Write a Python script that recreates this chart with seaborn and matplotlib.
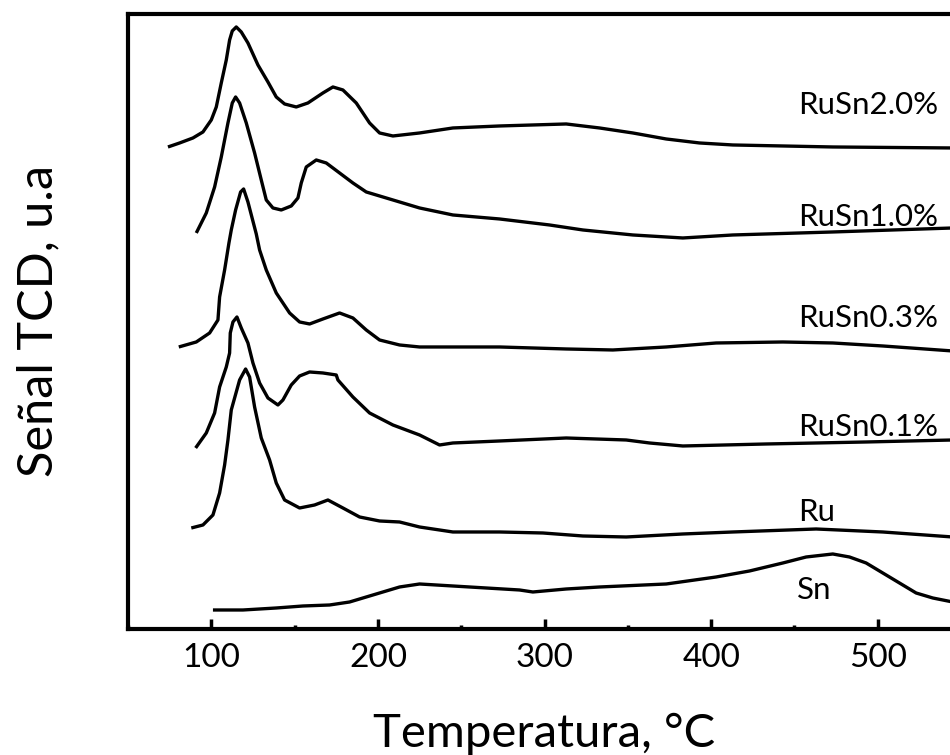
import numpy as np
import pandas as pd
import matplotlib
matplotlib.use("Agg")
import matplotlib.pyplot as plt
import seaborn as sns
from matplotlib.ticker import MultipleLocator

# TPR profiles (temperature in °C, TCD signal in arbitrary offset units)
t_rusn20 = [74, 81, 89, 95, 100, 103, 106, 109, 111, 112.6, 115, 118, 122, 128, 134, 139,
            144, 151, 158, 167, 173, 179, 187, 195, 201, 209, 225, 245, 273, 313, 333,
            353, 373, 393, 413, 473, 545]
s_rusn20 = [482, 486, 491, 497, 509, 522, 546, 569, 589, 598, 602, 597, 586, 564, 547, 532,
            525, 522, 526, 536, 542, 539, 526, 506, 496, 493, 496, 501, 503, 505, 501,
            496, 490, 486, 484, 482, 481]

t_rusn10 = [91, 97, 102, 106, 110, 112.6, 114.6, 117, 121, 126, 130, 133, 137, 142, 148,
            152, 154, 157, 163, 169, 177, 185, 193, 209, 225, 245, 273, 303, 323, 353,
            383, 413, 473, 545]
s_rusn10 = [396, 416, 442, 472, 506, 526, 532, 526, 506, 476, 449, 429, 421, 419, 423,
            431, 446, 462, 469, 466, 456, 446, 437, 429, 421, 414, 410, 404, 399, 394,
            391, 394, 397, 401]

t_rusn03 = [80.5, 91, 99, 104, 105, 108, 110.6, 112, 114.6, 117.6, 119.4, 122, 127, 129,
            133, 139, 147, 153, 159, 167, 177, 185, 193, 201, 213, 225, 273, 313, 341,
            373, 403, 443, 473, 503, 545]
s_rusn03 = [282, 287, 296, 309, 332, 359, 386, 399, 419, 437, 440, 427, 395, 379,
            359, 336, 316, 307, 305, 310, 316, 311, 299, 289, 284, 282, 282, 280, 279,
            282, 286, 287, 286, 283, 278]

t_rusn01 = [90.6, 97, 102, 105, 109, 111, 111.4, 113, 115.4, 118, 122, 125, 129, 134, 140,
            143, 148, 153, 159, 167, 175, 176, 185, 195, 209, 225, 237, 245, 273, 313,
            349, 363, 383, 433, 493, 545]
s_rusn01 = [181, 196, 216, 242, 262, 276, 296, 307, 312, 301, 286, 266, 246, 231, 224,
            229, 244, 253, 257, 256, 254, 249, 232, 216, 204, 194, 184, 186, 188, 191,
            189, 186, 183, 185, 187, 189]

t_ru = [88, 95, 101, 105, 108, 110, 112, 117, 120.6, 123, 126, 130, 135, 139, 144, 153,
        162, 170, 179, 189, 201, 213, 225, 245, 273, 299, 323, 349, 383, 413, 463, 503,
        545]
s_ru = [101, 104, 114, 136, 164, 189, 219, 249, 260, 252, 222, 191, 169, 146, 129, 121,
        124, 129, 121, 112, 108, 107, 102, 97, 97, 96, 93, 92, 95, 97, 100, 97,
        92]

t_sn = [101, 119, 139, 155, 171, 183, 199, 213, 225, 245, 265, 285, 293, 313, 333, 373,
        403, 423, 443, 457, 473, 483, 493, 503, 513, 523, 533, 545]
s_sn = [19, 19, 21, 23, 24, 27, 35, 42, 45, 43, 41, 39, 37, 40, 42, 45,
        52, 58, 66, 72, 75, 72, 66, 56, 46, 36, 31, 27]

samples = ["RuSn2.0%", "RuSn1.0%", "RuSn0.3%", "RuSn0.1%", "Ru", "Sn"]
temps = [t_rusn20, t_rusn10, t_rusn03, t_rusn01, t_ru, t_sn]
signals = [s_rusn20, s_rusn10, s_rusn03, s_rusn01, s_ru, s_sn]

# curve labels: (temperature, signal, horizontal alignment)
label_t = [536, 536, 536, 536, 463, 462]
label_s = [524, 412, 311, 202, 117, 39]
label_ha = ["right", "right", "right", "right", "center", "center"]

x_ticks = [100, 200, 300, 400, 500]

df = pd.concat(
    [pd.DataFrame({"T": t, "signal": s, "sample": name})
     for name, t, s in zip(samples, temps, signals)],
    ignore_index=True,
)

sns.set_style("ticks")
plt.rcParams["font.family"] = ["Lato", "DejaVu Sans"]
plt.rcParams["text.color"] = "black"
plt.rcParams["axes.labelcolor"] = "black"
plt.rcParams["xtick.color"] = "black"
plt.rcParams["xtick.labelcolor"] = "black"

fig = plt.figure(figsize=(9.5, 7.55), dpi=100)
ax = fig.add_axes([0.1347, 0.1669, 0.877, 0.8146])

sns.lineplot(data=df, x="T", y="signal", units="sample", estimator=None,
             color="black", linewidth=2.4, sort=False, ax=ax, legend=False)
for line in ax.get_lines():
    line.set_solid_joinstyle("round")
    line.set_solid_capstyle("butt")

for name, lt, ls, ha in zip(samples, label_t, label_s, label_ha):
    ax.text(lt, ls, name, ha=ha, va="center", fontsize=22.5, color="black")

ax.set_xlim(50, 550)
ax.set_ylim(0, 615)
ax.set_xticks(x_ticks)
ax.set_xticklabels([str(v) for v in x_ticks])
ax.xaxis.set_minor_locator(MultipleLocator(50))
ax.set_yticks([])
ax.tick_params(axis="x", which="major", direction="in", length=7, width=2.5,
               labelsize=24, pad=10, colors="black", labelcolor="black")
ax.tick_params(axis="x", which="minor", direction="in", length=3, width=2.5,
               colors="black")

for side in ["left", "bottom", "top", "right"]:
    ax.spines[side].set_linewidth(3)
    ax.spines[side].set_color("black")

ax.set_xlabel("Temperatura, °C", fontsize=34, labelpad=29, color="black")
ax.set_ylabel("Señal TCD, u.a", fontsize=35, labelpad=49, color="black")

fig.savefig("out.png", dpi=100)
